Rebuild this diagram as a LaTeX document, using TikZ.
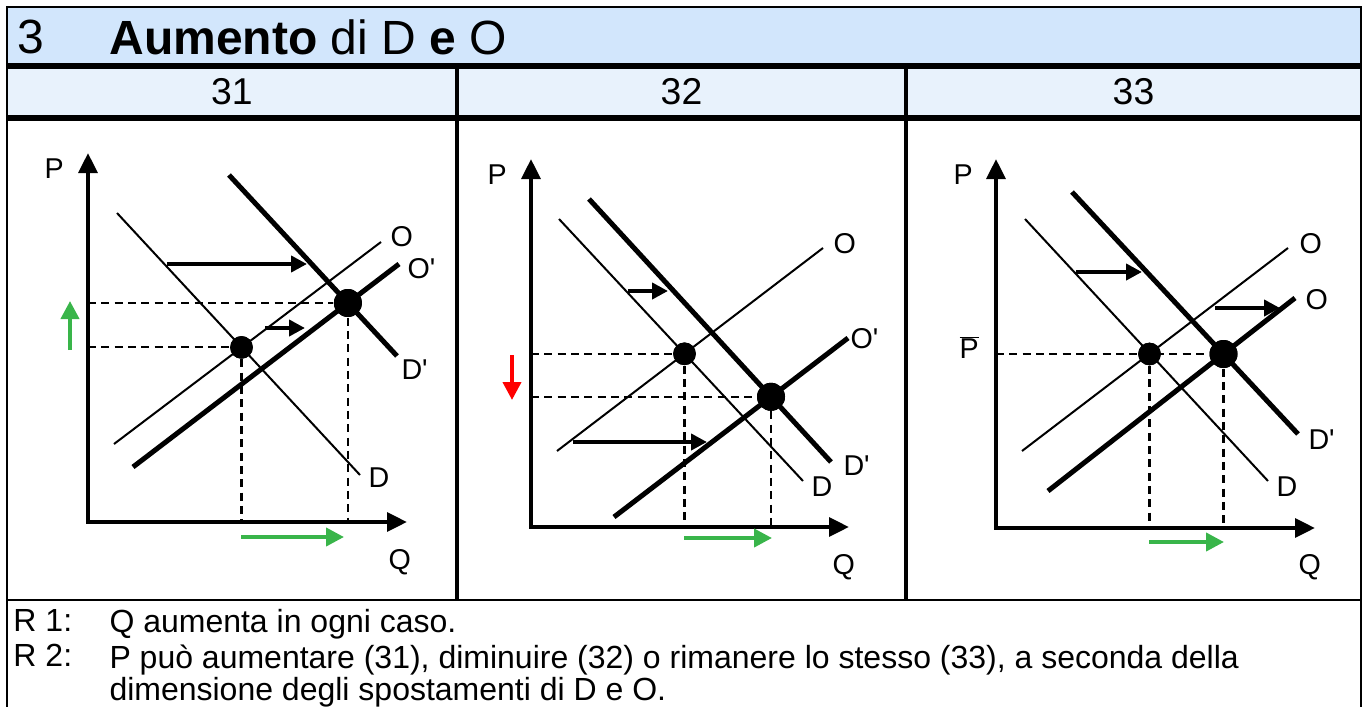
\documentclass[tikz,border=0pt]{standalone}
\usepackage{fontspec}
\setmainfont{Liberation Sans}
\usetikzlibrary{arrows.meta}

\definecolor{titleblue}{RGB}{210,230,252}
\definecolor{headblue}{RGB}{232,242,252}
\definecolor{upgreen}{RGB}{57,181,74}
\definecolor{downred}{RGB}{255,0,0}

\tikzset{every picture/.style={line width=0.75pt}}

\begin{document}
\begin{tikzpicture}[
            x=0.75pt,
            y=0.75pt,
            yscale=-1,
            xscale=1,
            every node/.style={text=black},
            line width=0.75pt,
            axes/.style={line width=3.2pt, {Triangle[length=15pt,width=14pt]}-{Triangle[length=15pt,width=14pt]}},
            thincurve/.style={line width=1.5pt},
            thickcurve/.style={line width=3.75pt},
            guide/.style={line width=1.6pt, dash pattern=on 6pt off 4pt},
            shiftarrow/.style={line width=3.2pt, -{Triangle[length=12pt,width=12pt]}},
            movearrow/.style={line width=3pt, -{Triangle[length=13.5pt,width=13.5pt]}},
            eqsmall/.style={circle, fill=black, inner sep=0pt, minimum size=17pt},
            eqbig/.style={circle, fill=black, inner sep=0pt, minimum size=21pt},
            curvelab/.style={anchor=north west, inner sep=0.75pt, font=\fontsize{21.5}{25}\selectfont},
            colhead/.style={inner sep=0.75pt, font=\fontsize{28}{34}\selectfont},
            notetext/.style={anchor=north west, inner sep=0.75pt, font=\fontsize{24}{29}\selectfont}
        ]
            \useasboundingbox (0,0) rectangle (1368,707);

            % table frame
            \fill[titleblue] (7,7) rectangle (1361,65) ;
            \fill[headblue] (7,65) rectangle (1361,118) ;
            \draw[line width=2pt] (7,707) -- (7,7) -- (1361,7) -- (1361,707) ;
            \draw[line width=4.5pt] (7,65.5) -- (1361,65.5) ;
            \draw[line width=4pt] (7,118) -- (1361,118) ;
            \draw[line width=3pt] (457,65) -- (457,600) ;
            \draw[line width=3pt] (906,65) -- (906,600) ;
            \draw[line width=2pt] (7,600) -- (1361,600) ;

            \node[anchor=north west, inner sep=0.75pt, font=\fontsize{36}{43}\selectfont] (num) at (16,18) {3};
            \node[anchor=north west, inner sep=0.75pt, font=\fontsize{36}{43}\selectfont] (title) at (108,18) {\textbf{Aumento} di D \textbf{e} O};
            \node[colhead] (h31) at (232,92) {31};
            \node[colhead] (h32) at (681.5,92) {32};
            \node[colhead] (h33) at (1133.5,92) {33};

            % 31
            \coordinate (o1) at (88,522);
            \node[eqsmall] (e11) at (241.5,347.4) {};
            \node[eqbig] (e12) at (347.9,303) {};
            \draw[guide] (o1 |- e12) -- (e12) ;
            \draw[guide] (o1 |- e11) -- (e11) ;
            \draw[guide] (e11) -- (e11 |- o1) ;
            \draw[guide] (e12) -- (e12 |- o1) ;
            \draw[axes] (88,153) -- (o1) -- (407,522) ;
            \draw[thincurve] (117,213) -- (360,475) ;
            \draw[thickcurve] (229,175) -- (397,356) ;
            \draw[thincurve] (114,444) -- (381,242) ;
            \draw[thickcurve] (133,467) -- (399,264) ;
            \node[eqsmall] at (e11) {};
            \node[eqbig] at (e12) {};
            \draw[shiftarrow] (167,264) -- (307,264) ;
            \draw[shiftarrow] (265,328) -- (305,328) ;
            \draw[movearrow, upgreen] (70,350) -- (70,301) ;
            \draw[movearrow, upgreen] (241,537) -- (344,537) ;
            \node[curvelab] (p1) at (43,157) {P};
            \node[curvelab] (q1) at (387,548) {Q};
            \node[curvelab] (d1) at (367,466) {D};
            \node[curvelab] (dd1) at (400,358) {D\textquotesingle};
            \node[curvelab] (s1) at (389,225) {O};
            \node[curvelab] (ss1) at (406,257) {O\textquotesingle};

            % 32
            \coordinate (o2) at (531,527);
            \node[eqsmall] (e21) at (684.5,353.8) {};
            \node[eqbig] (e22) at (771,396.8) {};
            \draw[guide] (o2 |- e21) -- (e21) ;
            \draw[guide] (o2 |- e22) -- (e22) ;
            \draw[guide] (e21) -- (e21 |- o2) ;
            \draw[guide] (e22) -- (e22 |- o2) ;
            \draw[axes] (531,159) -- (o2) -- (849,527) ;
            \draw[thincurve] (559,219) -- (803,481) ;
            \draw[thickcurve] (589,199) -- (831,462) ;
            \draw[thincurve] (557,451) -- (823,248) ;
            \draw[thickcurve] (614,517) -- (848,338) ;
            \node[eqsmall] at (e21) {};
            \node[eqbig] at (e22) {};
            \draw[shiftarrow] (628,291) -- (668,291) ;
            \draw[shiftarrow] (573,442) -- (707,442) ;
            \draw[movearrow, downred] (512,355) -- (512,400) ;
            \draw[movearrow, upgreen] (684,538) -- (772,538) ;
            \node[curvelab] (p2) at (486,163) {P};
            \node[curvelab] (q2) at (831,553) {Q};
            \node[curvelab] (d2) at (810,475) {D};
            \node[curvelab] (dd2) at (842,454) {D\textquotesingle};
            \node[curvelab] (s2) at (832,232) {O};
            \node[curvelab] (ss2) at (849,327) {O\textquotesingle};

            % 33
            \coordinate (o3) at (996,528);
            \node[eqsmall] (e31) at (1149.5,354) {};
            \node[eqbig] (e32) at (1223.5,354) {};
            \draw[guide] (o3 |- e32) -- (e32) ;
            \draw[guide] (e31) -- (e31 |- o3) ;
            \draw[guide] (e32) -- (e32 |- o3) ;
            \draw[axes] (996,159) -- (o3) -- (1315,528) ;
            \draw[thincurve] (1025,219) -- (1268,481) ;
            \draw[thickcurve] (1072,192) -- (1298,434) ;
            \draw[thincurve] (1022,451) -- (1288,248) ;
            \draw[thickcurve] (1048,491) -- (1295,298) ;
            \node[eqsmall] at (e31) {};
            \node[eqbig] at (e32) {};
            \draw[shiftarrow] (1076,272) -- (1142,272) ;
            \draw[shiftarrow] (1215,308) -- (1280,308) ;
            \draw[movearrow, upgreen] (1149,542) -- (1224,542) ;
            \node[curvelab] (p3) at (952,163) {P};
            \node[curvelab] (pbar) at (958,335) {$\overline{\mbox{P}}$};
            \node[curvelab] (q3) at (1297,553) {Q};
            \node[curvelab] (d3) at (1275,475) {D};
            \node[curvelab] (dd3) at (1307,428) {D\textquotesingle};
            \node[curvelab] (s3) at (1298,232) {O};
            \node[curvelab] (ss3) at (1304,288) {O};

            % notes
            \node[notetext] (r1) at (12,608) {R 1:};
            \node[notetext] (r1t) at (108,608) {Q aumenta in ogni caso.};
            \node[notetext] (r2) at (12,643) {R 2:};
            \node[notetext] (r2t) at (108,643) {P può aumentare (31), diminuire (32) o rimanere lo stesso (33), a seconda della};
            \node[notetext] (r2u) at (108,676) {dimensione degli spostamenti di D e O.};
        \end{tikzpicture}
\end{document}
